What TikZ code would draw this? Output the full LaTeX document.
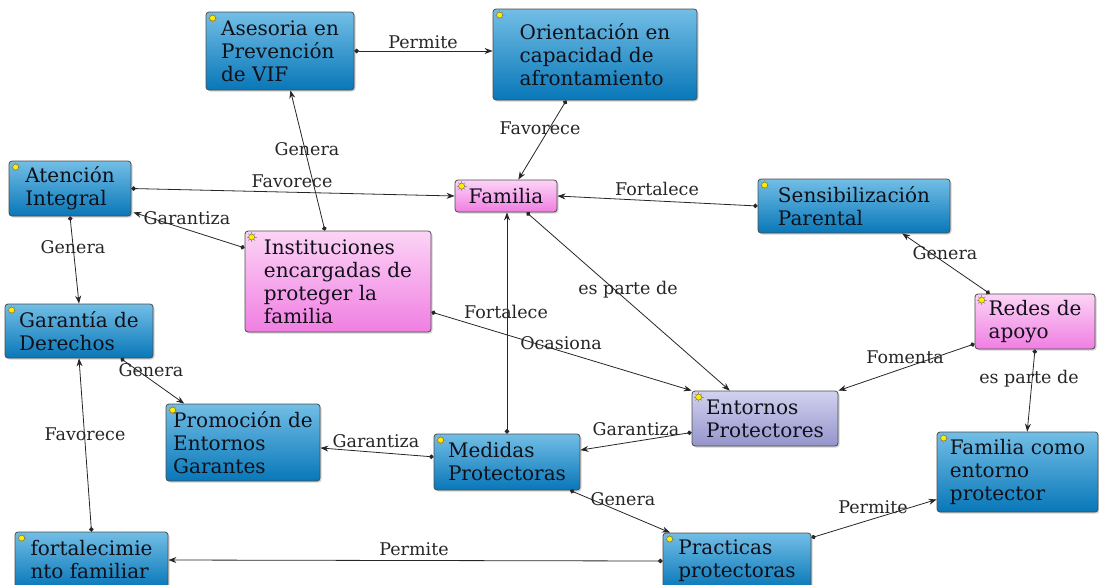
\documentclass[tikz,border=0pt]{standalone}
\usepackage{fontspec}
\setmainfont{DejaVu Serif}
\usetikzlibrary{shadows,calc,arrows.meta}
\definecolor{bluetop}{HTML}{72BEE6}
\definecolor{bluebot}{HTML}{0877B8}
\definecolor{pinktop}{HTML}{FCD4F6}
\definecolor{pinkbot}{HTML}{F07EE2}
\definecolor{lavtop}{HTML}{D2D2F0}
\definecolor{lavbot}{HTML}{9494CC}
\definecolor{txt}{HTML}{101018}
\begin{document}
\begin{tikzpicture}[x=1pt,y=-1pt,
  box/.style={draw=black!70, line width=0.8pt, rounded corners=3pt, align=left,
    inner sep=1pt, font=\fontsize{20}{23}\selectfont, text=txt,
    drop shadow={shadow xshift=1.5pt,shadow yshift=-1.5pt,opacity=0.35}},
  bluebox/.style={box, top color=bluetop, bottom color=bluebot},
  pinkbox/.style={box, top color=pinktop, bottom color=pinkbot},
  lavbox/.style={box, top color=lavtop, bottom color=lavbot},
  conn/.style={draw=black!85, line width=0.8pt, {Circle[length=4.5pt]}-{Stealth[length=8pt,width=6pt]}},
  lbl/.style={font=\fontsize{17.5}{19}\selectfont, text=black!85, inner sep=0pt},
  icon/.style={fill=yellow!95!orange, draw=olive!70!black, line width=0.4pt},
  ray/.style={draw=black!40, line width=0.6pt}
]
\useasboundingbox (0,0) rectangle (1099,584);
% nodes
\node[bluebox, minimum width=148, minimum height=78] (ases) at (280,51) {Asesoria en\\Prevención\\de VIF};
\node[bluebox, minimum width=204, minimum height=91] (orient) at (595,54.5) {Orientación en\\capacidad de\\afrontamiento};
\node[bluebox, minimum width=122, minimum height=55] (aten) at (70,188.5) {Atención\\Integral};
\node[pinkbox, minimum width=102, minimum height=32] (fam) at (506,196) {Familia};
\node[bluebox, minimum width=192, minimum height=54] (sens) at (854,206) {Sensibilización\\Parental};
\node[pinkbox, minimum width=186, minimum height=101] (inst) at (338,281.5) {Instituciones\\encargadas de\\proteger la\\familia};
\node[pinkbox, minimum width=120, minimum height=55] (redes) at (1035,321.5) {Redes de\\apoyo};
\node[bluebox, minimum width=148, minimum height=54] (gar) at (79,331) {Garantía de\\Derechos};
\node[lavbox, minimum width=146, minimum height=55] (ent) at (765,418.5) {Entornos\\Protectores};
\node[bluebox, minimum width=154, minimum height=77] (prom) at (243,442.5) {Promoción de\\Entornos\\Garantes};
\node[bluebox, minimum width=146, minimum height=56] (med) at (507,462) {Medidas\\Protectoras};
\node[bluebox, minimum width=161, minimum height=80] (famc) at (1017.5,472) {Familia como\\entorno\\protector};
\node[bluebox, minimum width=153, minimum height=56] (fort) at (91.5,560) {fortalecimie\\nto familiar};
\node[bluebox, minimum width=148, minimum height=56] (prac) at (737,561) {Practicas\\protectoras};
% icons
\foreach \n in {ases,orient,aten,fam,sens,inst,redes,gar,ent,prom,med,famc,fort,prac}{
  \foreach \a in {0,45,...,315}
    \draw[ray] ($(\n.north west)+(7,6.5)+(\a:3)$) -- ($(\n.north west)+(7,6.5)+(\a:5)$);
  \draw[icon] ($(\n.north west)+(7,6.5)$) circle (3pt);
}
% connectors
\draw[conn] (ases.east) -- (ases.east -| orient.west);
\draw[conn] ($(orient.south west)!0.36!(orient.south east)$) -- ($(fam.north west)!0.62!(fam.north east)$);
\draw[conn] ($(inst.north west)!0.43!(inst.north east)$) -- ($(ases.south west)!0.57!(ases.south east)$);
\draw[conn] (aten.east) -- (fam.west);
\draw[conn] ($(inst.north west)!0.17!(inst.south west)$) -- ($(aten.south east)+(2,-4)$);
\draw[conn] (sens.west) -- (fam.east);
\draw[conn] (aten.south) -- (gar.north);
\draw[conn] ($(redes.north west)!0.125!(redes.north east)$) -- ($(sens.south west)!0.75!(sens.south east)$);
\draw[conn] ($(fam.south west)!0.7!(fam.south east)$) -- ($(ent.north west)!0.26!(ent.north east)$);
\draw[conn] (med.north) -- (med.north |- fam.south);
\draw[conn] ($(inst.north east)!0.8!(inst.south east)$) -- (ent.north west);
\draw[conn] ($(redes.north west)!0.9!(redes.south west)$) -- (ent.north east);
\draw[conn] (redes.south) -- ($(famc.north west)!0.56!(famc.north east)$);
\draw[conn] ($(ent.north west)!0.75!(ent.south west)$) -- ($(med.north east)!0.29!(med.south east)$);
\draw[conn] ($(med.north west)!0.41!(med.south west)$) -- ($(prom.north east)!0.57!(prom.south east)$);
\draw[conn] ($(gar.south west)!0.78!(gar.south east)$) -- ($(prom.north west)!0.12!(prom.north east)$);
\draw[conn] (fort.north) -- (gar.south);
\draw[conn] (prac.west) -- (fort.east);
\draw[conn] ($(med.south west)!0.93!(med.south east)$) -- ($(prac.north west)!0.05!(prac.north east)$);
\draw[conn] ($(prac.north east)!0.09!(prac.south east)$) -- ($(famc.north west)!0.84!(famc.south west)$);
% labels
\node[lbl] (l1) at (423,42) {Permite};
\node[lbl] (l2) at (540,128) {Favorece};
\node[lbl] (l3) at (307,149) {Genera};
\node[lbl] (l4) at (292,181) {Favorece};
\node[lbl] (l5) at (187,218) {Garantiza};
\node[lbl] (l6) at (657,189) {Fortalece};
\node[lbl] (l7) at (73,247) {Genera};
\node[lbl] (l8) at (945,253) {Genera};
\node[lbl] (l9) at (628,290) {es parte de};
\node[lbl] (l10) at (506,312) {Fortalece};
\node[lbl] (l11) at (561,343) {Ocasiona};
\node[lbl] (l12) at (905,357) {Fomenta};
\node[lbl] (l13) at (1029,379) {es parte de};
\node[lbl] (l14) at (636,429) {Garantiza};
\node[lbl] (l15) at (376,441) {Garantiza};
\node[lbl] (l16) at (151,370) {Genera};
\node[lbl] (l17) at (85,434) {Favorece};
\node[lbl] (l18) at (414,549) {Permite};
\node[lbl] (l19) at (623,499) {Genera};
\node[lbl] (l20) at (873,507) {Permite};
\end{tikzpicture}
\end{document}
